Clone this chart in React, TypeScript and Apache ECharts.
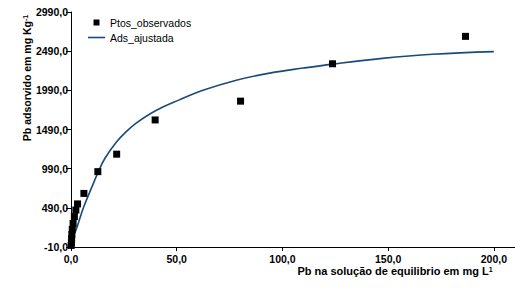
import React, { useEffect, useRef } from "react";
import * as echarts from "echarts";

const obsX = [186.6, 123.7, 80.2, 39.8, 21.6, 12.7, 6.1, 3.1, 2.3, 1.6, 1.0, 0.6, 0.4, 0.3, 0.2, 0.1];
const obsY = [2679, 2329, 1852, 1612, 1175, 952, 674, 540, 462, 378, 290, 215, 150, 95, 45, 10];

const fitX = [0, 1, 2.8, 6, 10.4, 12.6, 16, 21.5, 26, 31, 40.4, 51, 62.4, 78.2, 94, 110, 123.7, 147.3, 171, 200];
const fitY = [0, 110, 240, 500, 790, 930, 1120, 1330, 1460, 1575, 1735, 1865, 1990, 2120, 2210, 2275, 2325, 2398, 2450, 2484];

const xTicks = [0, 50, 100, 150, 200];
const yTicks = [-10, 490, 990, 1490, 1990, 2490, 2990];

const FONT = "'Liberation Sans', Arimo, sans-serif";
const fmt = (v: number) => v.toFixed(1).replace(".", ",");

export default function App() {
  const ref = useRef<HTMLDivElement>(null);
  useEffect(() => {
    document.body.style.margin = "0";
    const chart = echarts.init(ref.current!, null, { renderer: "svg" });
    chart.setOption({
      animation: false,
      backgroundColor: "#ffffff",
      textStyle: { fontFamily: FONT },
      grid: { left: 71, right: 0, top: 12, bottom: 46, containLabel: false },
      legend: {
        orient: "vertical",
        left: 88,
        top: 17,
        padding: 0,
        itemWidth: 17,
        itemHeight: 6,
        itemGap: 4,
        symbolKeepAspect: true,
        textStyle: { fontFamily: FONT, fontSize: 10.5, color: "#000" },
        data: [
          {
            name: "Ptos_observados",
            icon: "path://M0,0L1,0L1,1L0,1Z",
            itemStyle: { color: "#000" },
          },
          {
            name: "Ads_ajustada",
            icon: "path://M0,0L17,0L17,1.6L0,1.6Z",
            itemStyle: { color: "#1a4a7c" },
          },
        ],
      },
      xAxis: {
        type: "value",
        min: 0,
        max: 210,
        splitLine: { show: false },
        axisLine: { onZero: false, lineStyle: { color: "#000", width: 1 } },
        axisTick: { show: true, length: 4, customValues: xTicks, lineStyle: { color: "#000" } },
        axisLabel: {
          customValues: xTicks,
          formatter: fmt,
          fontFamily: FONT,
          fontSize: 10.5,
          fontWeight: "bold",
          color: "#000",
          margin: 6,
        },
      },
      yAxis: {
        type: "value",
        min: -10,
        max: 2990,
        splitLine: { show: false },
        axisLine: { show: true, onZero: false, lineStyle: { color: "#000", width: 1 } },
        axisTick: { show: true, length: 5, customValues: yTicks, lineStyle: { color: "#000" } },
        axisLabel: {
          customValues: yTicks,
          formatter: fmt,
          fontFamily: FONT,
          fontSize: 10.5,
          fontWeight: "bold",
          color: "#000",
          margin: 3,
        },
      },
      graphic: [
        {
          type: "text",
          x: 27,
          y: 78,
          rotation: Math.PI / 2,
          style: {
            text: "Pb adsorvido em mg Kg{sup|-1}",
            align: "center",
            verticalAlign: "middle",
            fontFamily: FONT,
            fontSize: 10.5,
            fontWeight: "bold",
            fill: "#000",
            rich: {
              sup: { fontSize: 7, fontWeight: "bold", fontFamily: FONT, verticalAlign: "top", fill: "#000" },
            },
          },
        },
        {
          type: "text",
          x: 395,
          y: 271,
          style: {
            text: "Pb na solução de equilibrio em mg L{sup|1}",
            align: "center",
            verticalAlign: "middle",
            fontFamily: FONT,
            fontSize: 11,
            fontWeight: "bold",
            fill: "#000",
            rich: {
              sup: { fontSize: 7, fontWeight: "bold", fontFamily: FONT, verticalAlign: "top", fill: "#000" },
            },
          },
        },
      ],
      series: [
        {
          name: "Ads_ajustada",
          type: "line",
          smooth: 0.4,
          showSymbol: false,
          symbol: "none",
          data: fitX.map((x, i) => [x, fitY[i]]),
          lineStyle: { color: "#1a4a7c", width: 1.6 },
          itemStyle: { color: "#1a4a7c" },
          z: 2,
        },
        {
          name: "Ptos_observados",
          type: "scatter",
          symbol: "rect",
          symbolSize: 7,
          data: obsX.map((x, i) => [x, obsY[i]]),
          itemStyle: { color: "#000", opacity: 1 },
          z: 3,
        },
      ],
    });
    return () => chart.dispose();
  }, []);
  return <div ref={ref} style={{ width: 515, height: 293 }} />;
}
